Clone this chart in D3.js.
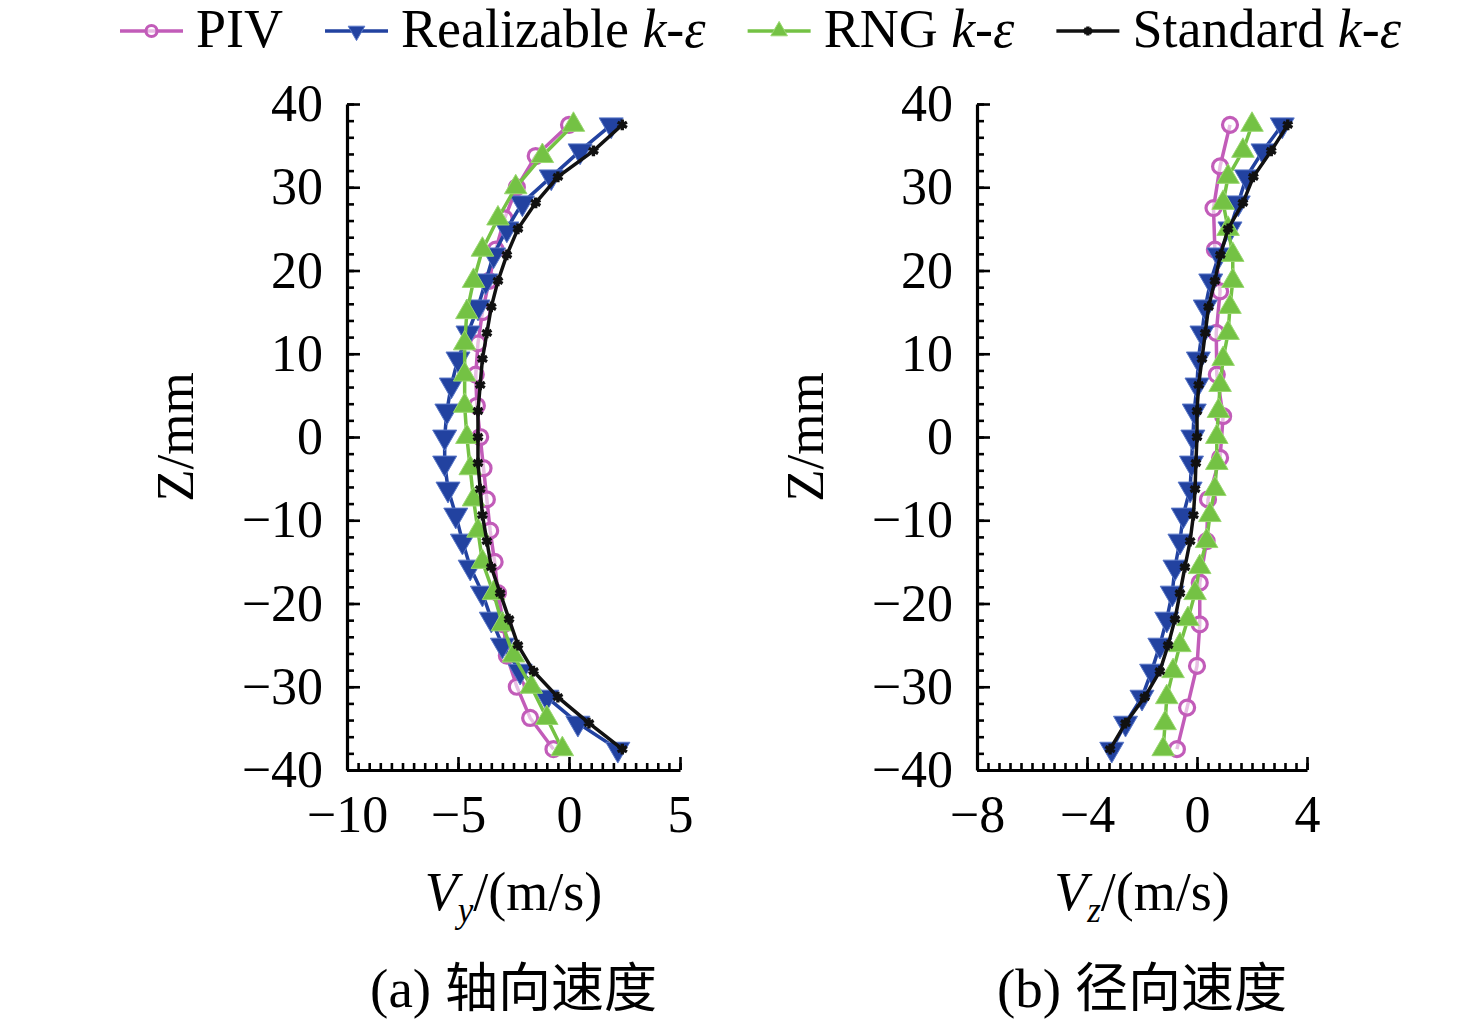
<!DOCTYPE html>
<html lang="zh">
<head>
<meta charset="utf-8">
<title>速度分布对比</title>
<script src="https://cdn.jsdelivr.net/npm/d3@7"></script>
<style>
    body { margin: 0; background: #fff; }
    text { font-family: "Liberation Serif", "Times New Roman", serif; fill: #000; }
    .cjk { font-family: "Noto Sans CJK SC", sans-serif; }
</style>
</head>
<body>
<script>

    // z positions (mm) of the sampled points
    var zSim = [37.5, 34.375, 31.25, 28.125, 25, 21.875, 18.75, 15.625, 12.5, 9.375, 6.25, 3.125, 0,
        -3.125, -6.25, -9.375, -12.5, -15.625, -18.75, -21.875, -25, -28.125, -31.25, -34.375, -37.5];
    var zPivA = [37.5, 33.75, 30, 26.25, 22.5, 18.75, 15, 11.25, 7.5, 3.75, 0,
        -3.75, -7.5, -11.25, -15, -18.75, -22.5, -26.25, -30, -33.75, -37.5];
    var zPivB = [37.5, 32.5, 27.5, 22.5, 17.5, 12.5, 7.5, 2.5, -2.5, -7.5, -12.5, -17.5, -22.5, -27.5, -32.5, -37.5];

    // (a) axial velocity Vy (m/s)
    var pivA = [0.0, -1.5, -2.35, -2.9, -3.3, -3.6, -3.9, -4.1, -4.2, -4.15, -4.0,
        -3.85, -3.7, -3.55, -3.35, -3.2, -2.95, -2.8, -2.35, -1.75, -0.7];
    var realA = [1.9, 0.5, -0.8, -2.1, -2.8, -3.4, -3.75, -4.1, -4.55, -5.0, -5.3, -5.5, -5.6,
        -5.6, -5.45, -5.1, -4.8, -4.45, -3.9, -3.5, -3.0, -2.2, -1.0, 0.4, 2.2];
    var rngA = [0.2, -1.2, -2.4, -3.2, -3.9, -4.3, -4.6, -4.7, -4.7, -4.7, -4.6,
        -4.45, -4.3, -4.1, -3.9, -3.4, -3.0, -2.5, -1.7, -1.0, -0.3];
    var stdA = [2.4, 1.1, -0.5, -1.5, -2.3, -2.8, -3.2, -3.5, -3.7, -3.9, -4.0, -4.1, -4.1,
        -4.1, -4.0, -3.9, -3.7, -3.5, -3.1, -2.7, -2.3, -1.6, -0.5, 0.9, 2.4];

    // (b) radial velocity Vz (m/s)
    var pivB = [1.2, 0.84, 0.6, 0.65, 0.84, 0.7, 0.72, 0.95, 0.84, 0.4, 0.35, 0.1, 0.1, 0.0, -0.36, -0.73];
    var realB = [3.1, 2.4, 1.8, 1.5, 1.2, 0.8, 0.5, 0.3, 0.18, 0.05, 0.0, -0.1, -0.15,
        -0.2, -0.25, -0.5, -0.62, -0.8, -0.9, -1.1, -1.35, -1.65, -2.0, -2.6, -3.1];
    var rngB = [2.0, 1.67, 1.13, 0.95, 1.13, 1.3, 1.3, 1.2, 1.13, 0.95, 0.84, 0.78, 0.72,
        0.72, 0.65, 0.47, 0.35, 0.1, -0.07, -0.33, -0.62, -0.87, -1.1, -1.16, -1.23];
    var stdB = [3.3, 2.7, 2.05, 1.67, 1.13, 0.85, 0.65, 0.42, 0.3, 0.18, 0.06, 0.0, 0.0,
        -0.04, -0.07, -0.13, -0.25, -0.44, -0.62, -0.8, -1.05, -1.35, -1.9, -2.6, -3.16];

    // ticks
    var zTicks = [-40, -30, -20, -10, 0, 10, 20, 30, 40];
    var xTicksA = [-10, -5, 0, 5];
    var xTicksB = [-8, -4, 0, 4];
    var captions = [["(a) ", "轴向速度"], ["(b) ", "径向速度"]];
    var subs = ["y", "z"];

    var seriesNames = ["PIV", "Realizable", "RNG", "Standard"];
    var colors = ["#c25cb9", "#2242a0", "#74c244", "#111111"];

    var w = 1476;
    var h = 1026;

    var svg = d3.select("body")
        .append("svg")
        .attr("width", w)
        .attr("height", h);

    var y = d3.scaleLinear()
        .domain([-40, 40])
        .range([770, 104]);

    function markerPath(i, size) {
        if (i == 1 || i == 2) return d3.symbol().type(d3.symbolTriangle).size(size)();
        return d3.symbol().type(d3.symbolAsterisk).size(size)();
    }

    function drawMarker(g, i, big) {
        if (i == 0) {
            g.append("circle")
                .attr("r", big ? 7.5 : 5.5)
                .attr("fill", "#fff")
                .attr("fill-opacity", 0.6)
                .attr("stroke", colors[0])
                .attr("stroke-width", 3.2);
        } else if (i == 3) {
            g.append("path")
                .attr("d", markerPath(3, big ? 80 : 55))
                .attr("fill", "none")
                .attr("stroke", colors[3])
                .attr("stroke-width", 3.4);
        } else {
            g.append("path")
                .attr("d", markerPath(i, big ? (i == 1 ? 250 : 220) : 120))
                .attr("transform", i == 1 ? "rotate(180)" : null)
                .attr("fill", colors[i])
                .attr("stroke", i == 1 ? "#5a78c8" : "#9ad870")
                .attr("stroke-width", 1);
        }
    }

    function drawPanel(idx, x, majorX, minorStep, series) {
        var g = svg.append("g");
        var x0 = x.range()[0];

        var line = d3.line()
            .x(function (d) { return x(d.v); })
            .y(function (d) { return y(d.z); });

        series.forEach(function (s, i) {
            var pts = s.z.map(function (z, j) { return {z: z, v: s.v[j]}; });
            g.append("path")
                .datum(pts)
                .attr("fill", "none")
                .attr("stroke", colors[i])
                .attr("stroke-width", 3.5)
                .attr("d", line);
            g.selectAll(null)
                .data(pts)
                .enter()
                .append("g")
                .attr("transform", function (d) { return "translate(" + x(d.v) + "," + y(d.z) + ")"; })
                .each(function () { drawMarker(d3.select(this), i, true); });
        });

        // minor ticks
        var dom = x.domain();
        var minorX = d3.range(dom[0], dom[1] + 1e-9, minorStep);
        var mx = g.append("g")
            .attr("transform", "translate(0,770)")
            .call(d3.axisBottom(x).tickValues(minorX).tickSize(-7).tickFormat(""));
        var my = g.append("g")
            .attr("transform", "translate(" + x0 + ",0)")
            .call(d3.axisLeft(y).tickValues(d3.range(-40, 41, 2)).tickSize(-7).tickFormat(""));
        mx.select(".domain").remove();
        my.select(".domain").remove();

        // major ticks and labels
        var ax = g.append("g")
            .attr("transform", "translate(0,770)")
            .call(d3.axisBottom(x).tickValues(majorX).tickSize(-13).tickSizeOuter(0).tickPadding(25));
        var ay = g.append("g")
            .attr("transform", "translate(" + x0 + ",0)")
            .call(d3.axisLeft(y).tickValues(zTicks).tickSize(-13).tickSizeOuter(0).tickPadding(24));

        [ax, ay, mx, my].forEach(function (a) {
            a.attr("font-size", 52).attr("font-family", "Liberation Serif");
            a.selectAll(".tick line").attr("stroke-width", 2.6);
            a.select(".domain").attr("stroke-width", 3.2);
        });

        var cx = (x.range()[0] + x.range()[1]) / 2;

        // Z/mm
        g.append("text")
            .attr("transform", "translate(" + (x0 - 154) + ",437) rotate(-90)")
            .attr("text-anchor", "middle")
            .attr("font-size", 53)
            .text("Z/mm");

        // V/(m/s)
        var t = g.append("text")
            .attr("x", cx)
            .attr("y", 910)
            .attr("text-anchor", "middle")
            .attr("font-size", 54);
        t.append("tspan").attr("font-style", "italic").text("V");
        t.append("tspan").attr("font-style", "italic").attr("font-size", 35).attr("dy", 12).text(subs[idx]);
        t.append("tspan").attr("dy", -12).text("/(m/s)");

        // caption
        var c = g.append("text")
            .attr("x", cx)
            .attr("y", 1007)
            .attr("text-anchor", "middle")
            .attr("font-size", 55);
        c.append("tspan").text(captions[idx][0]);
        c.append("tspan").attr("class", "cjk").attr("font-size", 53).text(captions[idx][1]);
    }

    var xA = d3.scaleLinear().domain([-10, 5]).range([347, 680]);
    var xB = d3.scaleLinear().domain([-8, 4]).range([977, 1307]);

    drawPanel(0, xA, xTicksA, 0.5, [
        {z: zPivA, v: pivA}, {z: zSim, v: realA}, {z: zPivA, v: rngA}, {z: zSim, v: stdA}
    ]);
    drawPanel(1, xB, xTicksB, 0.4, [
        {z: zPivB, v: pivB}, {z: zSim, v: realB}, {z: zSim, v: rngB}, {z: zSim, v: stdB}
    ]);

    // Legend
    var legend = svg.append("g");
    var lx = 120;
    seriesNames.forEach(function (name, i) {
        var item = legend.append("g").attr("transform", "translate(" + lx + ",0)");
        item.append("line")
            .attr("x1", 0).attr("x2", 63)
            .attr("y1", 31).attr("y2", 31)
            .attr("stroke", colors[i])
            .attr("stroke-width", 3.5);
        var m = item.append("g").attr("transform", "translate(31.5,31)");
        drawMarker(m, i, false);
        var txt = item.append("text")
            .attr("x", 76)
            .attr("y", 47)
            .attr("font-size", 54);
        txt.append("tspan").text(name);
        if (i > 0) {
            txt.append("tspan").text(" ");
            txt.append("tspan").attr("font-style", "italic").text("k");
            txt.append("tspan").text("-");
            txt.append("tspan").attr("font-style", "italic").text("ε");
        }
        lx += 76 + txt.node().getComputedTextLength() + 42;
    });

</script>
</body>
</html>
